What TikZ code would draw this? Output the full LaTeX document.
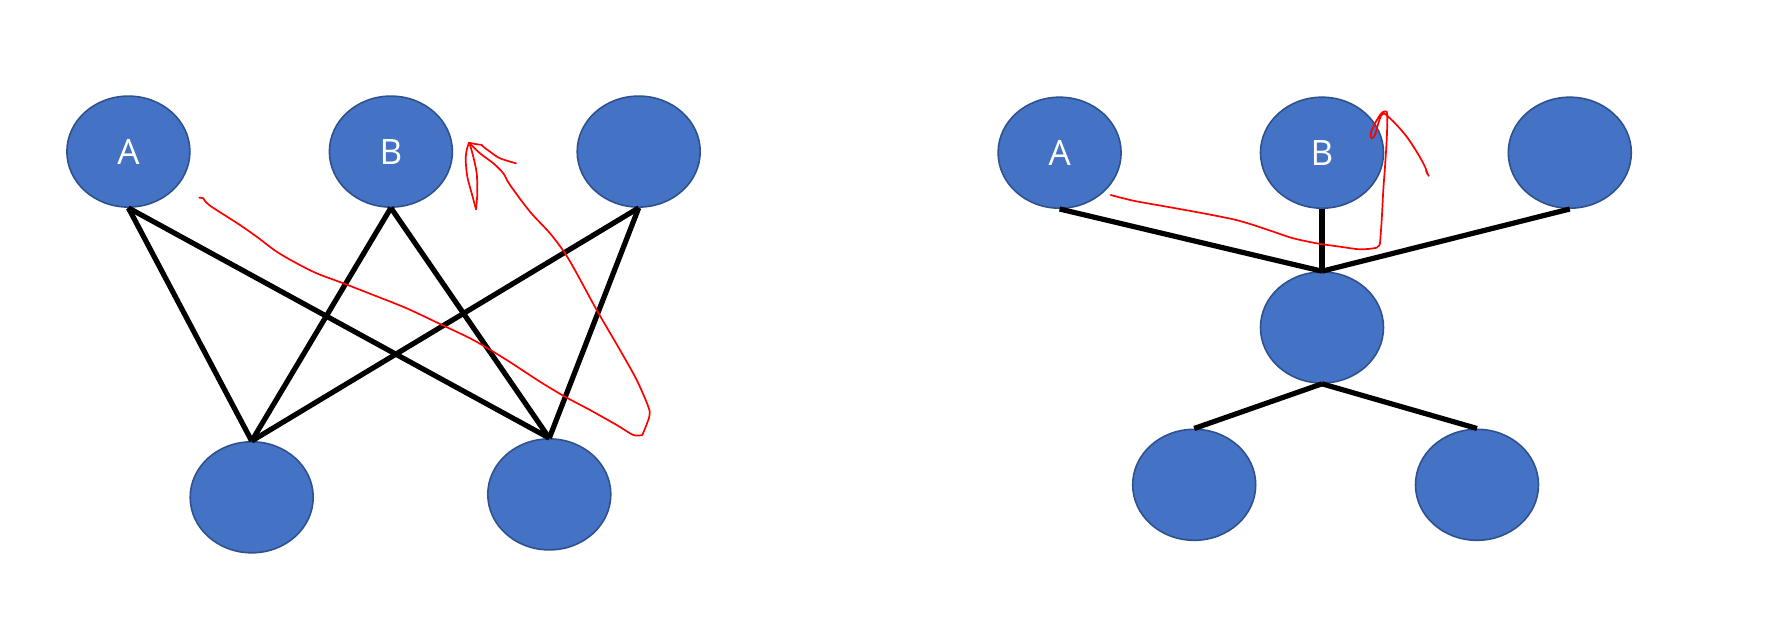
\documentclass[tikz,border=0pt]{standalone}
\usepackage{fontspec}
\setmainfont{Open Sans}
\usetikzlibrary{shapes.geometric}
\definecolor{nodefill}{HTML}{4472C4}
\definecolor{nodeborder}{HTML}{2F528F}
\definecolor{pen}{HTML}{FF0000}
\begin{document}
\begin{tikzpicture}[x=0.5pt,y=-0.5pt,
  nd/.style={ellipse, draw=nodeborder, fill=nodefill, line width=0.8pt,
    minimum width=61.5pt, minimum height=55.5pt, inner sep=0pt,
    text=white, font=\fontsize{17.5}{20}\selectfont},
  edge/.style={line width=2.6pt, black},
  ink/.style={pen, line width=0.85pt, line cap=round, line join=round}]
\useasboundingbox[fill=white] (0,0) rectangle (1774,642);

% left graph
\node[nd] (LA) at (128.4,151.6) {A};
\node[nd] (LB) at (390.9,151.6) {B};
\node[nd] (LC) at (638.7,151.6) {};
\node[nd] (LD) at (251.7,497.3) {};
\node[nd] (LE) at (549.3,494.4) {};
\foreach \t in {LA,LB,LC}{
  \draw[edge] (\t.south) -- (LD.north);
  \draw[edge] (\t.south) -- (LE.north);
}

% right graph
\node[nd] (RA) at (1059.6,152.7) {A};
\node[nd] (RB) at (1322,152.7) {B};
\node[nd] (RC) at (1569.8,152.7) {};
\node[nd] (RM) at (1322,327.5) {};
\node[nd] (RL) at (1194.2,484.8) {};
\node[nd] (RR) at (1477,484.8) {};
\draw[edge] (RA.south) -- (RM.north);
\draw[edge] (RB.south) -- (RM.north);
\draw[edge] (RC.south) -- (RM.north);
\draw[edge] (RM.south) -- (RL.north);
\draw[edge] (RM.south) -- (RR.north);

% red annotations, left
\draw[ink] plot[smooth, tension=0.5] coordinates {
 (199.3,197.7) (203.3,198.3) (205,201) (210,205.7) (223.3,214.3) (240,225)
 (256.7,236.7) (276.7,251.7) (296.7,263.3) (316.7,273.3) (343.3,283.3)
 (373.3,295) (406.7,308.3) (440,324) (473.3,340) (506.7,360) (540,381.7)
 (565,396.7) (590,410) (616.7,425) (633.3,435) (642.3,435)};
\draw[ink] plot[smooth, tension=0.5] coordinates {
 (642.3,435) (649.3,416.7) (648.3,406.7) (636.7,380) (620,350) (596.7,310)
 (576.7,273.3) (565,253.3) (550,233.3) (530,211.7) (510,185) (503.3,173.3)
 (493.3,163.3) (480,153.3) (469,142.7)};
\draw[ink] plot[smooth, tension=0.5] coordinates {
 (516,163.3) (500,158.3) (490,151.7) (483.3,146.7) (481.7,145) (475,144) (469,142.7)};
\draw[ink] plot[smooth, tension=0.5] coordinates {
 (469,142.7) (466.7,150) (465.7,160) (467.3,176.7) (471.7,193.3) (476,209.3)};
\draw[ink] plot[smooth, tension=0.5] coordinates {
 (476,209.3) (477.3,193.3) (476.7,173.3) (473.3,156.7) (470,145)};

% red annotation, right
\draw[ink] plot[smooth, tension=0.5] coordinates {
 (1110.7,195) (1133.3,200.7) (1166.7,206.7) (1200,212.7) (1233.3,219.3)
 (1253.3,225) (1273.3,231.7) (1293.3,238.3) (1316.7,243.3) (1340,246.7)
 (1360,249.3) (1376.7,247.7) (1380,243.3)};
\draw[ink] plot[smooth, tension=0.5] coordinates {
 (1380,243.3) (1381.7,220) (1383.3,190) (1385,166.7) (1386.7,140)
 (1387.3,120) (1386.7,111.7) (1383,112) (1380.7,114) (1375,123.3)
 (1370.7,133.3) (1371.7,138.3) (1375,135) (1378.3,123.3) (1381,116)
 (1384,113.5) (1388.3,116.7) (1396.7,125) (1406.7,136.7) (1416.7,151.7)
 (1425,166.7) (1427.3,174)};
\draw[ink] (1426,170.5) -- (1428.7,176);
\end{tikzpicture}
\end{document}
